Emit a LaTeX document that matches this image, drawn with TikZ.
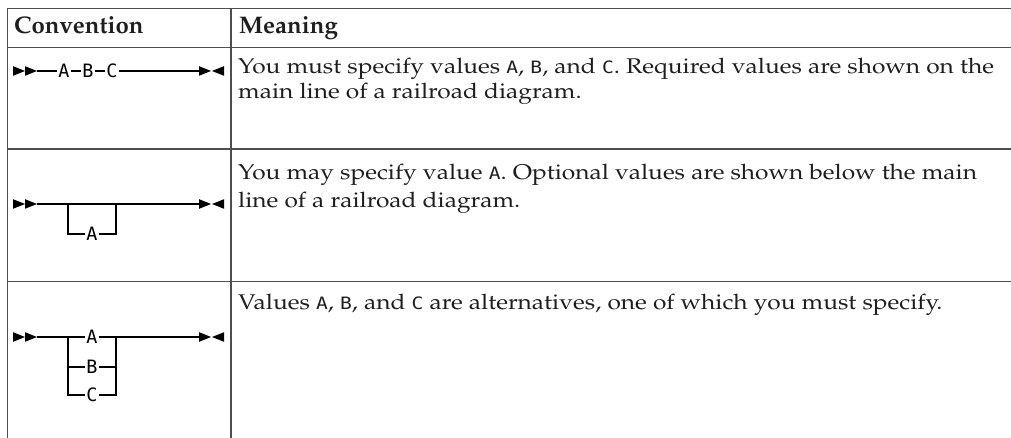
\documentclass[tikz,border=0pt]{standalone}
\usepackage[T1]{fontenc}
\usepackage{fontspec}
\usepackage{graphicx}
\newfontfamily\codefont[Scale=0.8]{DejaVu Sans Mono}
\newcommand\palfont{\fontencoding{T1}\fontfamily{ppl}\selectfont}
\newcommand\kw[1]{{\codefont #1}}
\newcommand\widetext[1]{\scalebox{1.15}[1]{#1}}
\definecolor{rule}{HTML}{4E4E4E}
\definecolor{ink}{HTML}{1E1E1E}
\tikzset{
  x=1pt, y=-1pt,
  tablerule/.style={draw=rule, line width=1.8pt},
  bodytext/.style={anchor=base west, inner sep=0pt, text=ink,
    font=\palfont\fontsize{21.3}{24}\selectfont},
  headtext/.style={anchor=base west, inner sep=0pt, text=ink,
    font=\palfont\bfseries\fontsize{24}{26}\selectfont},
  token/.style={inner sep=1.5pt, text=black,
    font=\codefont\fontsize{23}{23}\selectfont},
  rail/.style={draw=black, line width=1.2pt},
  railthick/.style={draw=black, line width=2.2pt},
  railstart/.pic={
    \fill[black] (0,-4.8) -- (12,0) -- (0,4.8) -- cycle;
    \fill[black] (12,-4.8) -- (24,0) -- (12,4.8) -- cycle;
  },
  railend/.pic={
    \fill[black] (0,-4.8) -- (12,0) -- (0,4.8) -- cycle;
    \fill[black] (25,-4.8) -- (13,0) -- (25,4.8) -- cycle;
  },
}
\begin{document}
\begin{tikzpicture}
\useasboundingbox (0,0) rectangle (1011,438);

% table frame
\draw[tablerule] (1011,8.5) -- (7.5,8.5) -- (7.5,438);
\draw[tablerule] (231,8.5) -- (231,438);
\draw[tablerule] (7.5,47.5) -- (1011,47.5);
\draw[tablerule] (7.5,149) -- (1011,149);
\draw[tablerule] (7.5,281.5) -- (1011,281.5);

% header
\node[headtext] (hconv) at (14,34) {Convention};
\node[headtext] (hmean) at (239,34) {Meaning};

% meaning column
\node[bodytext] (m1a) at (238,74) {\widetext{You must specify values \kw{A}, \kw{B}, and \kw{C}. Required values are shown on the}};
\node[bodytext] (m1b) at (238,98.5) {\widetext{main line of a railroad diagram.}};
\node[bodytext] (m2a) at (238,179.5) {\widetext{You may specify value \kw{A}. Optional values are shown below the main}};
\node[bodytext] (m2b) at (238,207.5) {\widetext{line of a railroad diagram.}};
\node[bodytext] (m3a) at (238,309) {\widetext{Values \kw{A}, \kw{B}, and \kw{C} are alternatives, one of which you must specify.}};

% ---- row 1: required values
\pic at (13,71) {railstart};
\coordinate (s1) at (37,71);
\node[token] (r1a) at (64,71) {A};
\node[token] (r1b) at (88,71) {B};
\node[token] (r1c) at (112,71) {C};
\coordinate (t1) at (170,71);
\coordinate (e1) at (199,71);
\draw[rail] (s1) -- (r1a) -- (r1b) -- (r1c);
\draw[railthick] (r1c) -- (t1);
\draw[rail] (t1) -- (e1);
\pic at (199,71) {railend};

% ---- row 2: optional value
\pic at (13,204) {railstart};
\coordinate (s2) at (37,204);
\coordinate (b2l) at (68,204);
\coordinate (b2r) at (116,204);
\node[token] (r2a) at (92,234) {A};
\coordinate (t2a) at (122,204);
\coordinate (t2b) at (145,204);
\coordinate (e2) at (199,204);
\draw[rail] (s2) -- (t2a);
\draw[railthick] (t2a) -- (t2b);
\draw[rail] (t2b) -- (e2);
\draw[rail] (b2l) |- (r2a.west);
\draw[rail] (r2a.east) -| (b2r);
\pic at (199,204) {railend};

% ---- row 3: alternatives
\pic at (13,337) {railstart};
\coordinate (s3) at (37,337);
\coordinate (b3l) at (68,337);
\coordinate (b3r) at (116,337);
\node[token] (r3a) at (92,337) {A};
\node[token] (r3b) at (92,367) {B};
\node[token] (r3c) at (92,395) {C};
\coordinate (t3a) at (122,337);
\coordinate (t3b) at (145,337);
\coordinate (e3) at (199,337);
\draw[rail] (s3) -- (r3a) -- (b3r) -- (t3a);
\draw[railthick] (t3a) -- (t3b);
\draw[rail] (t3b) -- (e3);
\draw[rail] (b3l) -- (b3l |- r3c) -- (r3c.west);
\draw[rail] (r3c.east) -- (b3r |- r3c) -- (b3r);
\draw[rail] (b3l |- r3b) -- (r3b.west);
\draw[rail] (r3b.east) -- (b3r |- r3b);
\pic at (199,337) {railend};
\end{tikzpicture}
\end{document}
